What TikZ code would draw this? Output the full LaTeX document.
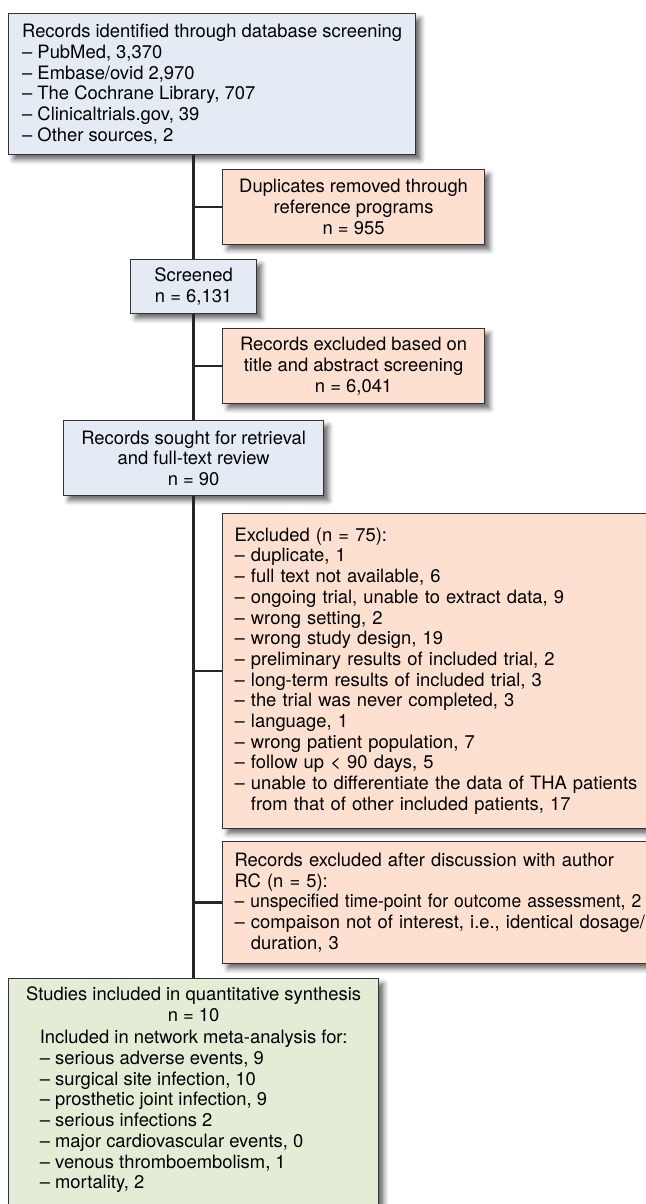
\documentclass[tikz,border=0pt]{standalone}
\usepackage{fontspec}
\setmainfont{TeX Gyre Heros}
\usetikzlibrary{shadows, shadows.blur, positioning}

\definecolor{boxblue}{HTML}{E4EBF5}
\definecolor{boxorange}{HTML}{FDE0CF}
\definecolor{boxgreen}{HTML}{E3EDD5}

\begin{document}
\begin{tikzpicture}[x=0.5pt, y=-0.5pt,
        font=\fontsize{9.2}{10.35}\selectfont,
        box/.style={draw=black!80, line width=0.6pt, inner sep=0pt,
            blur shadow={shadow xshift=2.5pt, shadow yshift=-2.5pt,
                shadow blur steps=5, shadow blur radius=2.5pt, shadow opacity=60}},
        bluebox/.style={box, fill=boxblue},
        orangebox/.style={box, fill=boxorange},
        greenbox/.style={box, fill=boxgreen},
        trunk/.style={line width=1.3pt, draw=black!85}]
    \useasboundingbox (0, 0) rectangle (646, 1204);
    \clip (0, 0) rectangle (646, 1204);

    \node [bluebox, anchor=north west, align=left, minimum width=203.5pt, minimum height=70.5pt]
        (Nid) at (8, 13) {Records identified through database screening\\
        -- PubMed, 3,370\\
        -- Embase/ovid 2,970\\
        -- The Cochrane Library, 707\\
        -- Clinicaltrials.gov, 39\\
        -- Other sources, 2};

    \node [orangebox, anchor=north west, align=center, minimum width=131pt, minimum height=37.5pt]
        (Ndup) at (222, 169) {Duplicates removed through\\ reference programs\\ n = 955};
    \node [bluebox, anchor=north west, align=center, minimum width=63pt, minimum height=27pt]
        (Nscr) at (130, 259) {Screened\\ n = 6,131};
    \node [orangebox, anchor=north west, align=center, minimum width=131pt, minimum height=37.5pt]
        (Nabs) at (222, 328) {Records excluded based on\\ title and abstract screening\\ n = 6,041};
    \node [bluebox, anchor=north west, align=center, minimum width=130pt, minimum height=37.5pt]
        (Nfull) at (63, 420) {Records sought for retrieval\\ and full-text review\\ n = 90};

    \node [orangebox, anchor=north west, align=left, text width=240pt, inner xsep=6pt, minimum height=157.5pt]
        (Nexc) at (222, 513) {Excluded (n = 75):\\
        -- duplicate, 1\\
        -- full text not available, 6\\
        -- ongoing trial, unable to extract data, 9\\
        -- wrong setting, 2\\
        -- wrong study design, 19\\
        -- preliminary results of included trial, 2\\
        -- long-term results of included trial, 3\\
        -- the trial was never completed, 3\\
        -- language, 1\\
        -- wrong patient population, 7\\
        -- follow up < 90 days, 5\\
        -- unable to differentiate the data of THA patients\\
        \hphantom{-- }from that of other included patients, 17};
    \node [orangebox, anchor=north west, align=left, text width=240pt, inner xsep=6pt, minimum height=61pt]
        (Nrc) at (222, 841) {Records excluded after discussion with author\\
        RC (n = 5):\\
        {\addfontfeature{FakeStretch=0.95}-- unspecified time-point for outcome assessment, 2}\\
        -- compaison not of interest, i.e., identical dosage/\\
        \hphantom{-- }duration, 3};

    \node [greenbox, anchor=north west, align=center, minimum width=185pt, inner ysep=4pt]
        (Ninc) at (8, 978) {Studies included in quantitative synthesis\\
        n = 10\\[3pt]
        \begin{tabular}{@{}l@{}}
        Included in network meta-analysis for:\\
        -- serious adverse events, 9\\
        -- surgical site infection, 10\\
        -- prosthetic joint infection, 9\\
        -- serious infections 2\\
        -- major cardiovascular events, 0\\
        -- venous thromboembolism, 1\\
        -- mortality, 2\\
        \\
        \end{tabular}};

    % main line and side branches
    \draw [trunk] (Nscr.north |- Nid.south) -- (Nscr.north);
    \draw [trunk] (Nscr.south) -- (Nfull.north);
    \draw [trunk] (Nfull.south) -- (Ninc.north);
    \draw [trunk] (Nscr.north |- Ndup.west) -- (Ndup.west);
    \draw [trunk] (Nscr.south |- Nabs.west) -- (Nabs.west);
    \draw [trunk] (Nfull.south |- Nexc.west) -- (Nexc.west);
    \draw [trunk] (Nfull.south |- Nrc.west) -- (Nrc.west);
\end{tikzpicture}
\end{document}
